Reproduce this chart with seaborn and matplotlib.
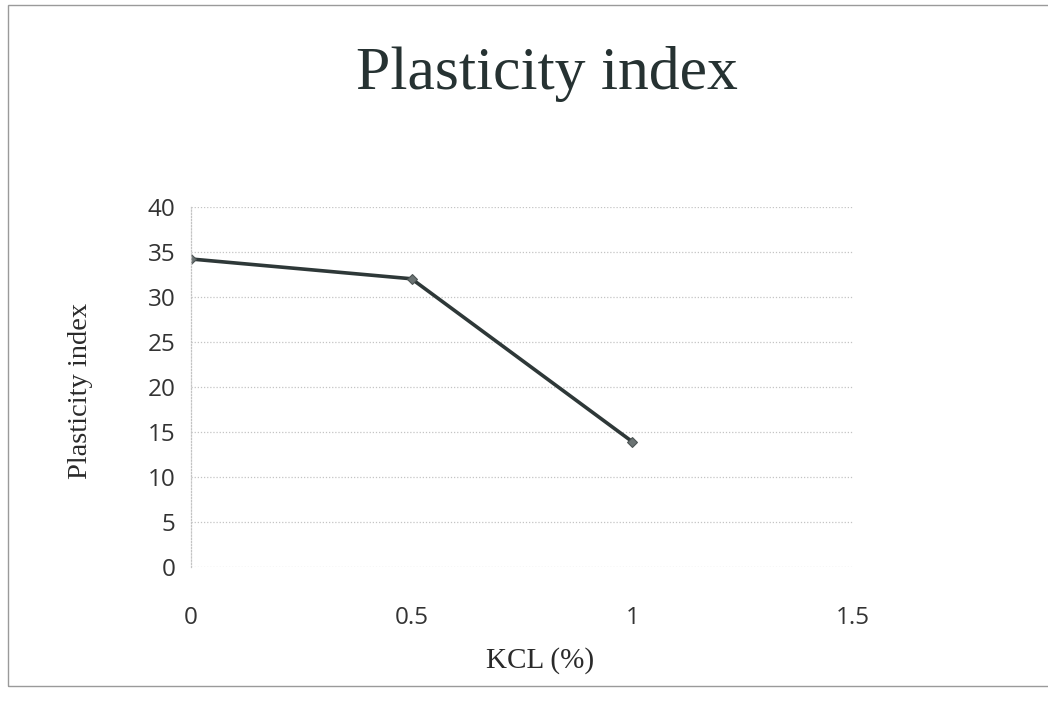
import matplotlib
matplotlib.use("Agg")
import matplotlib.pyplot as plt
from matplotlib.patches import Rectangle
import seaborn as sns
import pandas as pd

# KCL content (%) and measured plasticity index
kcl_percent = [0, 0.5, 1]
plasticity_index = [34.2, 32.0, 13.9]
x_ticks = [0, 0.5, 1, 1.5]
x_tick_labels = ["0", "0.5", "1", "1.5"]
y_ticks = [0, 5, 10, 15, 20, 25, 30, 35, 40]

df = pd.DataFrame({"KCL (%)": kcl_percent, "Plasticity index": plasticity_index})

sns.set_theme(style="white")
plt.rcParams["font.family"] = ["Open Sans", "DejaVu Sans"]

fig = plt.figure(figsize=(10.48, 7.13), dpi=100)
ax = fig.add_axes([0.182, 0.205, 0.632, 0.505])

sns.lineplot(data=df, x="KCL (%)", y="Plasticity index", ax=ax,
             color="#2e3838", linewidth=2.6, marker="D", markersize=5.5,
             markerfacecolor="#6b7373", markeredgecolor="#4a5252")

ax.set_xlim(0, 1.5)
ax.set_ylim(0, 40)
ax.set_xticks(x_ticks)
ax.set_xticklabels(x_tick_labels)
ax.set_yticks(y_ticks)

ax.grid(axis="y", color="#c4c4c4", linestyle=(0, (1, 1.5)), linewidth=0.9)
ax.grid(axis="x", visible=False)
for side in ["top", "right", "bottom"]:
    ax.spines[side].set_visible(False)
ax.spines["left"].set_color("#c4c4c4")
ax.spines["left"].set_linestyle((0, (1, 1.5)))
ax.spines["left"].set_linewidth(0.9)

ax.tick_params(axis="x", length=0, pad=28, labelsize=17.5, labelcolor="#333333")
ax.tick_params(axis="y", length=0, pad=11, labelsize=17.5, labelcolor="#333333")

ax.set_xlabel("")
ax.set_ylabel("")
fig.text(0.515, 0.073, "KCL (%)", ha="center", va="center",
         family="Liberation Serif", fontsize=21, color="#2a2a2a")
fig.text(0.077, 0.452, "Plasticity index", ha="center", va="center",
         rotation=90, family="Liberation Serif", fontsize=20.5, color="#2a2a2a")
fig.text(0.522, 0.896, "Plasticity index", ha="center", va="center",
         family="Liberation Serif", fontsize=44.5, color="#263232")

# thin frame around the chart area
fig.patches.append(Rectangle((0.008, 0.038), 1.2, 0.955, transform=fig.transFigure,
                             fill=False, edgecolor="#9a9a9a", linewidth=1.0))

fig.savefig("out.png", dpi=100, facecolor="white")
